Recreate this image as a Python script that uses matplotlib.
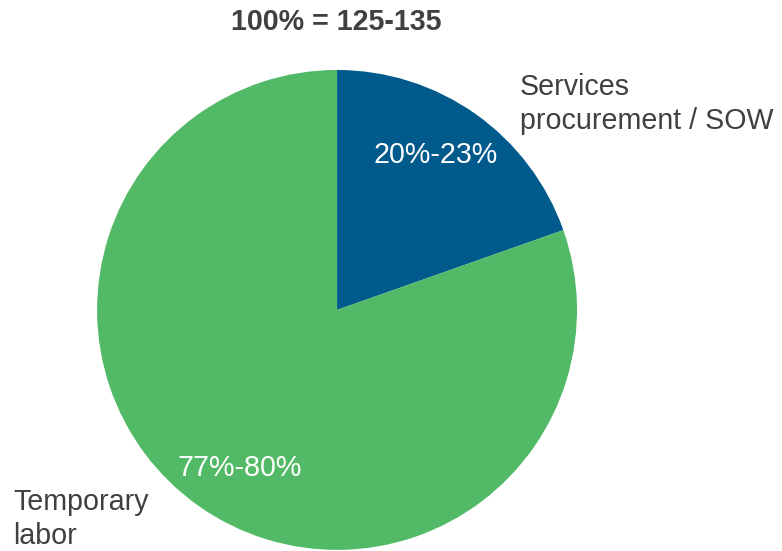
import matplotlib.pyplot as plt

# shares of spend
labels = ['Services\nprocurement / SOW', 'Temporary\nlabor']
values = [19.6, 80.4]
range_labels = ['20%-23%', '77%-80%']
colors = ['#005a8c', '#52ba66']
title = '100% = 125-135'

plt.rcParams['font.family'] = ['Liberation Sans', 'DejaVu Sans']
text_color = '#404040'
fs = 20.6

fig = plt.figure(figsize=(7.82, 5.51), dpi=100)
ax = fig.add_axes([0.124, 0.002, 0.614, 0.871])
ax.pie(values, colors=colors, startangle=90, counterclock=False,
       radius=1, wedgeprops=dict(linewidth=0))
ax.set_xlim(-1, 1)
ax.set_ylim(-1, 1)
ax.set_aspect('equal')
ax.axis('off')

# value ranges inside the wedges
ax.text(0.41, 0.647, range_labels[0], color='white', fontsize=fs,
        ha='center', va='center')
ax.text(-0.404, -0.658, range_labels[1], color='white', fontsize=fs,
        ha='center', va='center')

# outside labels and title in figure pixels
fig.text(520 / 782, 1 - 104 / 551, labels[0], color=text_color, fontsize=fs,
         ha='left', va='center', linespacing=1.3)
fig.text(13 / 782, 1 - 519 / 551, labels[1], color=text_color, fontsize=fs,
         ha='left', va='center', linespacing=1.3)
fig.text(336 / 782, 1 - 22 / 551, title, color=text_color, fontsize=fs,
         fontweight='bold', ha='center', va='center')

fig.savefig('out.png', dpi=100)
